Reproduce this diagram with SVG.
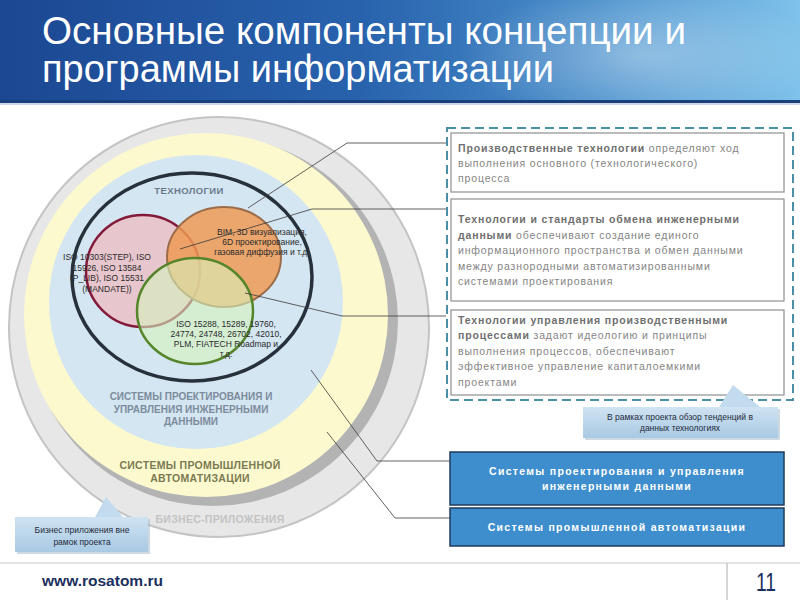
<svg xmlns="http://www.w3.org/2000/svg" width="800" height="600" viewBox="0 0 800 600">
<defs>
  <linearGradient id="hdr" x1="0" y1="0" x2="1" y2="0">
    <stop offset="0" stop-color="#1c4792"/>
    <stop offset="0.45" stop-color="#2862ad"/>
    <stop offset="0.75" stop-color="#4a90cc"/>
    <stop offset="1" stop-color="#7fc2ea"/>
  </linearGradient>
  <radialGradient id="glow" cx="0.5" cy="0.5" r="0.5">
    <stop offset="0" stop-color="#ffffff" stop-opacity="0.35"/>
    <stop offset="1" stop-color="#ffffff" stop-opacity="0"/>
  </radialGradient>
  <linearGradient id="call" x1="0" y1="0" x2="0" y2="1">
    <stop offset="0" stop-color="#cfe3f2"/>
    <stop offset="1" stop-color="#a9c9e3"/>
  </linearGradient>
  <style>
    .title{font-family:"Liberation Sans Narrow","Liberation Sans",Arial,sans-serif;font-size:38px;fill:#ffffff}
    .ring{font-family:"Liberation Sans",Arial,sans-serif;font-weight:bold;text-anchor:middle}
    .venn{font-family:"Liberation Sans",Arial,sans-serif;font-size:8.5px;fill:#2a2a2a;text-anchor:middle}
    .desc{font-family:"Liberation Sans",Arial,sans-serif;font-size:10.5px;fill:#858585;letter-spacing:0.85px}
    .desc .b{font-weight:bold;fill:#6f6f6f}
    .dbox{fill:#ffffff;stroke:#8f8f8f;stroke-width:1.2}
    .bbox{fill:#3e8ecd;stroke:#203a5c;stroke-width:1.5}
    .btxt{font-family:"Liberation Sans",Arial,sans-serif;font-size:10.5px;font-weight:bold;fill:#ffffff;text-anchor:middle;letter-spacing:1.3px}
    .ctxt{font-family:"Liberation Sans Narrow","Liberation Sans",Arial,sans-serif;font-size:8.5px;fill:#1e2a3a;text-anchor:middle}
    .lead{fill:none;stroke:#3a3a3a;stroke-width:0.8}
  </style>
</defs>
<rect width="800" height="600" fill="#ffffff"/>

<g id="header">
  <rect x="0" y="0" width="800" height="103" fill="url(#hdr)"/>
  <ellipse cx="640" cy="55" rx="180" ry="70" fill="url(#glow)"/>
  <rect x="0" y="100" width="800" height="3" fill="#1a3f7a"/>
  <rect x="0" y="103" width="800" height="2" fill="#c9d9ea"/>
  <text class="title" x="42" y="44" textLength="644" lengthAdjust="spacingAndGlyphs">Основные компоненты концепции и</text>
  <text class="title" x="42" y="82" textLength="512" lengthAdjust="spacingAndGlyphs">программы информатизации</text>
</g>

<g id="ring-business">
  <circle cx="219" cy="327" r="210" fill="#e7e7e7" stroke="#c4c4c4" stroke-width="2"/>
  <circle cx="213" cy="321" r="185" fill="#b3b3b3"/>
  <text class="ring" x="220" y="523" font-size="10.5" fill="#c3c3c3" letter-spacing="0.3">БИЗНЕС-ПРИЛОЖЕНИЯ</text>
</g>
<g id="ring-automation">
  <circle cx="206" cy="315" r="182" fill="#fcf9cf"/>
  <text class="ring" x="200" y="469" font-size="10.5" fill="#7b7a52" letter-spacing="0.3">СИСТЕМЫ ПРОМЫШЛЕННОЙ</text>
  <text class="ring" x="200" y="482" font-size="10.5" fill="#7b7a52" letter-spacing="0.3">АВТОМАТИЗАЦИИ</text>
</g>
<g id="ring-pdm">
  <circle cx="196" cy="302" r="147" fill="#d5e6f3"/>
  <text class="ring" x="191" y="400" font-size="10" fill="#7c8c9c">СИСТЕМЫ ПРОЕКТИРОВАНИЯ И</text>
  <text class="ring" x="191" y="412.5" font-size="10" fill="#7c8c9c">УПРАВЛЕНИЯ ИНЖЕНЕРНЫМИ</text>
  <text class="ring" x="191" y="425" font-size="10" fill="#7c8c9c">ДАННЫМИ</text>
</g>
<g id="technologies">
  <ellipse cx="192" cy="277" rx="120" ry="104" fill="none" stroke="#27313b" stroke-width="3.5"/>
  <text class="ring" x="189" y="194" font-size="9.5" fill="#6b7b8c" letter-spacing="0.4">ТЕХНОЛОГИИ</text>
</g>
<g id="venn-exchange">
  <ellipse cx="143" cy="271" rx="57" ry="56" fill="#e8c6cd" stroke="#841a3a" stroke-width="2.5"/>
  <text class="venn" x="107" y="260">ISO 10303(STEP), ISO</text>
  <text class="venn" x="107" y="270.5">15926, ISO 13584</text>
  <text class="venn" x="107" y="281">(P_LIB), ISO 15531</text>
  <text class="venn" x="107" y="291.5">(MANDATE))</text>
</g>
<g id="venn-production">
  <ellipse cx="224" cy="257" rx="57" ry="50" fill="#ee9a55" fill-opacity="0.85" stroke="#9c6c48" stroke-width="2"/>
  <text class="venn" x="262" y="235">BIM, 3D визуализация,</text>
  <text class="venn" x="262" y="245">6D проектирование,</text>
  <text class="venn" x="262" y="255">газовая диффузия и т.д.</text>
</g>
<g id="venn-process">
  <ellipse cx="195" cy="311" rx="58" ry="53" fill="#d6f3bd" fill-opacity="0.6" stroke="#56852c" stroke-width="2.5"/>
  <text class="venn" x="226" y="327">ISO 15288, 15289, 19760,</text>
  <text class="venn" x="226" y="337">24774, 24748, 26702, 42010,</text>
  <text class="venn" x="226" y="347">PLM, FIATECH Roadmap и</text>
  <text class="venn" x="226" y="357">т.д.</text>
</g>

<g id="connectors">
  <polyline class="lead" points="248,208 347,143 446,143"/>
  <polyline class="lead" points="180,249 312,209 446,209"/>
  <polyline class="lead" points="245,293 342,316 446,316"/>
  <polyline class="lead" points="311,370 377,461 450,461"/>
  <polyline class="lead" points="327,432 395,518 450,518"/>
</g>

<g id="tech-panel">
  <rect x="447" y="128" width="346" height="272" fill="none" stroke="#4a8fa6" stroke-width="2" stroke-dasharray="9 5"/>
</g>
<g id="desc-production">
  <rect class="dbox" x="451" y="133" width="333" height="59"/>
  <text class="desc" x="458" y="152"><tspan class="b">Производственные технологии</tspan> определяют ход</text>
  <text class="desc" x="458" y="167">выполнения основного (технологического)</text>
  <text class="desc" x="458" y="182">процесса</text>
</g>
<g id="desc-exchange">
  <rect class="dbox" x="451" y="199" width="333" height="102"/>
  <text class="desc" x="458" y="223"><tspan class="b">Технологии и стандарты обмена инженерными</tspan></text>
  <text class="desc" x="458" y="238.5"><tspan class="b">данными</tspan> обеспечивают создание единого</text>
  <text class="desc" x="458" y="254">информационного пространства и обмен данными</text>
  <text class="desc" x="458" y="269.5">между разнородными автоматизированными</text>
  <text class="desc" x="458" y="285">системами проектирования</text>
</g>
<g id="desc-process">
  <rect class="dbox" x="451" y="310" width="333" height="85"/>
  <text class="desc" x="458" y="323.5"><tspan class="b">Технологии управления производственными</tspan></text>
  <text class="desc" x="458" y="339"><tspan class="b">процессами</tspan> задают идеологию и принципы</text>
  <text class="desc" x="458" y="354.5">выполнения процессов, обеспечивают</text>
  <text class="desc" x="458" y="370">эффективное управление капиталоемкими</text>
  <text class="desc" x="458" y="385.5">проектами</text>
</g>

<g id="callout-scope">
  <polygon points="719,407 733,385 760,407" fill="#c3dbee"/>
  <rect x="585" y="409" width="195" height="31" fill="#9fb4c6" opacity="0.5"/>
  <rect x="583" y="407" width="195" height="31" fill="url(#call)"/>
  <text class="ctxt" x="680" y="420">В рамках проекта обзор тенденций в</text>
  <text class="ctxt" x="680" y="431">данных технологиях</text>
</g>

<g id="sys-pdm">
  <rect class="bbox" x="450" y="452" width="334" height="53"/>
  <text class="btxt" x="617" y="475">Системы проектирования и управления</text>
  <text class="btxt" x="617" y="490">инженерными данными</text>
</g>
<g id="sys-automation">
  <rect class="bbox" x="450" y="508" width="334" height="38"/>
  <text class="btxt" x="617" y="531">Системы промышленной автоматизации</text>
</g>

<g id="callout-business">
  <polygon points="95,517 106,497 123,517" fill="#c3dbee"/>
  <rect x="17" y="519" width="133" height="35" fill="#9fb4c6" opacity="0.5"/>
  <rect x="15" y="517" width="133" height="35" fill="url(#call)"/>
  <text class="ctxt" x="82" y="533" font-size="9.3">Бизнес приложения вне</text>
  <text class="ctxt" x="82" y="545" font-size="9.3">рамок проекта</text>
</g>

<g id="footer">
  <line x1="0" y1="563" x2="800" y2="563" stroke="#c8c8c8" stroke-width="1"/>
  <line x1="727" y1="563" x2="727" y2="600" stroke="#c8c8c8" stroke-width="1.5"/>
  <text x="42" y="586" font-family="Liberation Sans Narrow,Liberation Sans,Arial,sans-serif" font-size="14" font-weight="bold" fill="#1b2f5e" textLength="121" lengthAdjust="spacingAndGlyphs">www.rosatom.ru</text>
  <text x="766" y="591" font-family="Liberation Sans Narrow,Liberation Sans,Arial,sans-serif" font-size="25" fill="#1b2f5e" text-anchor="middle" textLength="20" lengthAdjust="spacingAndGlyphs">11</text>
</g>
</svg>
